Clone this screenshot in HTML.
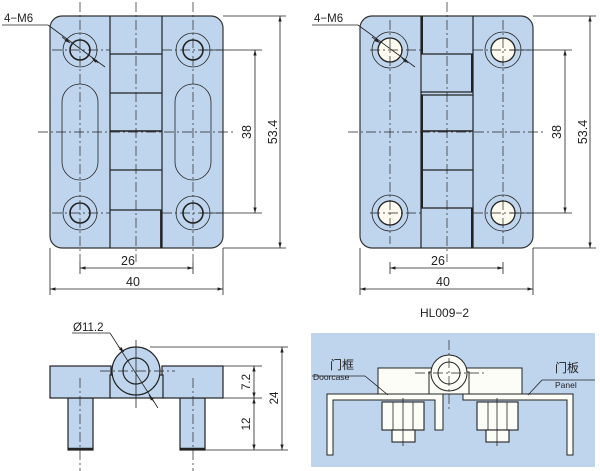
<!DOCTYPE html>
<html><head><meta charset="utf-8"><style>
html,body{margin:0;padding:0;background:#fff;}
svg{display:block;}
text{font-family:"Liberation Sans","Noto Sans CJK SC",sans-serif;fill:#222;}
</style></head><body>
<svg width="600" height="471" viewBox="0 0 600 471" xmlns="http://www.w3.org/2000/svg">
<defs>
<marker id="a" viewBox="0 0 10 10" refX="10" refY="5" markerWidth="7" markerHeight="7" orient="auto-start-reverse"><path d="M0,2 L10,5 L0,8 z" fill="#222"/></marker>
</defs>
<g stroke="#222" stroke-width="0.8" fill="none">
<!-- LEFT HINGE -->
<rect x="50" y="16" width="173" height="232" rx="12" fill="#bfd5ee" stroke="#333" stroke-width="1.2"/>
<line x1="110" y1="16" x2="110" y2="248" stroke-width="1.2"/>
<line x1="162" y1="16" x2="162" y2="248" stroke-width="1.2"/>
<line x1="110" y1="54" x2="162" y2="54" stroke-width="1.2"/>
<line x1="110" y1="93" x2="162" y2="93" stroke-width="1.2"/>
<line x1="110" y1="131" x2="162" y2="131" stroke-width="1.4"/>
<line x1="110" y1="170" x2="162" y2="170" stroke-width="1.2"/>
<line x1="110" y1="210" x2="162" y2="210" stroke-width="1.2"/>
<line x1="161" y1="210" x2="161" y2="248" stroke-width="1.8"/>
<rect x="62" y="84" width="36" height="96" rx="18"/>
<rect x="175" y="84" width="36" height="96" rx="18"/>
<g>
<circle cx="80" cy="50" r="17"/><circle cx="80" cy="50" r="10" stroke-width="1.6"/>
<circle cx="193" cy="50" r="17"/><circle cx="193" cy="50" r="10" stroke-width="1.6"/>
<circle cx="80" cy="213" r="17"/><circle cx="80" cy="213" r="10" stroke-width="1.6"/>
<circle cx="193" cy="213" r="17"/><circle cx="193" cy="213" r="10" stroke-width="1.6"/>
</g>
<g stroke-dasharray="10,3,2,3" stroke-width="0.7">
<line x1="80" y1="2" x2="80" y2="262"/><line x1="193" y1="2" x2="193" y2="262"/>
<line x1="136" y1="2" x2="136" y2="262"/>
<line x1="38" y1="132" x2="236" y2="132"/>
<line x1="52" y1="50" x2="110" y2="50"/><line x1="162" y1="50" x2="222" y2="50"/>
<line x1="52" y1="213" x2="110" y2="213"/><line x1="162" y1="213" x2="222" y2="213"/>
</g>
<line x1="2" y1="25" x2="48" y2="25"/><line x1="48" y1="25" x2="105" y2="67"/>
<line x1="62" y1="37" x2="70" y2="43" marker-end="url(#a)"/>
<line x1="98" y1="63" x2="92" y2="58" marker-end="url(#a)"/>
<line x1="200" y1="50" x2="262" y2="50"/><line x1="200" y1="213" x2="262" y2="213"/>
<line x1="255" y1="50" x2="255" y2="213" marker-start="url(#a)" marker-end="url(#a)"/>
<line x1="223" y1="16" x2="286" y2="16"/><line x1="223" y1="248" x2="286" y2="248"/>
<line x1="280" y1="16" x2="280" y2="248" marker-start="url(#a)" marker-end="url(#a)"/>
<line x1="50" y1="248" x2="50" y2="295"/><line x1="223" y1="248" x2="223" y2="295"/>
<line x1="80" y1="262" x2="80" y2="274"/><line x1="193" y1="262" x2="193" y2="274"/>
<line x1="80" y1="268" x2="193" y2="268" marker-start="url(#a)" marker-end="url(#a)"/>
<line x1="50" y1="289" x2="223" y2="289" marker-start="url(#a)" marker-end="url(#a)"/>

<!-- RIGHT HINGE -->
<rect x="360" y="16" width="173" height="232" rx="12" fill="#bfd5ee" stroke="#333" stroke-width="1.2"/>
<line x1="421" y1="16" x2="421" y2="248" stroke-width="1.2"/>
<line x1="473" y1="16" x2="473" y2="248" stroke-width="1.2"/>
<line x1="422" y1="16" x2="422" y2="54" stroke-width="2"/>
<line x1="421" y1="54" x2="473" y2="54" stroke-width="1.2"/>
<line x1="472" y1="54" x2="472" y2="92" stroke-width="2"/>
<line x1="421" y1="92" x2="473" y2="92" stroke-width="1.2"/>
<line x1="421" y1="95" x2="473" y2="95" stroke-width="1.2"/>
<line x1="421" y1="131" x2="473" y2="131" stroke-width="1.6"/>
<line x1="421" y1="170" x2="473" y2="170" stroke-width="1.2"/>
<line x1="422" y1="95" x2="422" y2="208" stroke-width="2"/>
<line x1="421" y1="208" x2="473" y2="208" stroke-width="1.2"/>
<line x1="472" y1="208" x2="472" y2="248" stroke-width="2"/>
<g>
<circle cx="390" cy="50" r="18"/><circle cx="390" cy="50" r="12" fill="#fdfbf0" stroke-width="1.3"/>
<circle cx="503" cy="50" r="18"/><circle cx="503" cy="50" r="12" fill="#fdfbf0" stroke-width="1.3"/>
<circle cx="390" cy="213" r="18"/><circle cx="390" cy="213" r="12" fill="#fdfbf0" stroke-width="1.3"/>
<circle cx="503" cy="213" r="18"/><circle cx="503" cy="213" r="12" fill="#fdfbf0" stroke-width="1.3"/>
</g>
<g stroke-dasharray="10,3,2,3" stroke-width="0.7">
<line x1="390" y1="20" x2="390" y2="244"/><line x1="503" y1="20" x2="503" y2="244"/>
<line x1="447" y1="2" x2="447" y2="262"/>
<line x1="348" y1="132" x2="546" y2="132"/>
<line x1="370" y1="50" x2="421" y2="50"/><line x1="473" y1="50" x2="530" y2="50"/>
<line x1="370" y1="213" x2="421" y2="213"/><line x1="473" y1="213" x2="530" y2="213"/>
</g>
<line x1="312" y1="25" x2="358" y2="25"/><line x1="358" y1="25" x2="415" y2="67"/>
<line x1="372" y1="37" x2="380" y2="43" marker-end="url(#a)"/>
<line x1="408" y1="63" x2="402" y2="58" marker-end="url(#a)"/>
<line x1="510" y1="50" x2="572" y2="50"/><line x1="510" y1="213" x2="572" y2="213"/>
<line x1="565" y1="50" x2="565" y2="213" marker-start="url(#a)" marker-end="url(#a)"/>
<line x1="533" y1="16" x2="596" y2="16"/><line x1="533" y1="248" x2="596" y2="248"/>
<line x1="590" y1="16" x2="590" y2="248" marker-start="url(#a)" marker-end="url(#a)"/>
<line x1="360" y1="248" x2="360" y2="295"/><line x1="533" y1="248" x2="533" y2="295"/>
<line x1="390" y1="262" x2="390" y2="274"/><line x1="503" y1="262" x2="503" y2="274"/>
<line x1="390" y1="268" x2="503" y2="268" marker-start="url(#a)" marker-end="url(#a)"/>
<line x1="360" y1="289" x2="533" y2="289" marker-start="url(#a)" marker-end="url(#a)"/>

<!-- SIDE VIEW -->
<rect x="68" y="398" width="25" height="52" fill="#bfd5ee" stroke-width="1.2"/>
<rect x="180" y="398" width="25" height="52" fill="#bfd5ee" stroke-width="1.2"/>
<line x1="68" y1="449" x2="93" y2="449" stroke-width="2.5"/>
<line x1="180" y1="449" x2="205" y2="449" stroke-width="2.5"/>
<rect x="50" y="366" width="61" height="32" fill="#bfd5ee" stroke-width="1.2"/>
<rect x="162" y="366" width="61" height="32" fill="#bfd5ee" stroke-width="1.2"/>
<rect x="110" y="375" width="53" height="23" fill="#bfd5ee" stroke-width="1.2"/>
<circle cx="136" cy="371" r="24" fill="#bfd5ee" stroke-width="1.2"/>
<circle cx="136" cy="371" r="13" stroke-width="1.2"/>
<g stroke-dasharray="10,3,2,3" stroke-width="0.7">
<line x1="80" y1="378" x2="80" y2="471"/><line x1="193" y1="378" x2="193" y2="471"/>
<line x1="100" y1="371" x2="175" y2="371"/>
</g>
<line x1="136" y1="340" x2="136" y2="408"/>
<line x1="72" y1="333" x2="110" y2="333"/><line x1="110" y1="333" x2="158" y2="408"/>
<line x1="118" y1="346" x2="124" y2="352" marker-end="url(#a)"/>
<line x1="154" y1="402" x2="149" y2="395" marker-end="url(#a)"/>
<line x1="150" y1="347" x2="288" y2="347"/>
<line x1="223" y1="366" x2="262" y2="366"/><line x1="205" y1="398" x2="262" y2="398"/>
<line x1="205" y1="450" x2="288" y2="450"/>
<line x1="254" y1="366" x2="254" y2="398" marker-start="url(#a)" marker-end="url(#a)"/>
<line x1="254" y1="398" x2="254" y2="450" marker-start="url(#a)" marker-end="url(#a)"/>
<line x1="282" y1="347" x2="282" y2="450" marker-start="url(#a)" marker-end="url(#a)"/>

<!-- INSTALL VIEW -->
<rect x="311" y="333" width="284" height="134" fill="#bfd5ee" stroke="none"/>
<rect x="378" y="368" width="144" height="26" fill="#fdfdf8" stroke-width="1"/>
<rect x="429" y="372" width="40" height="22" fill="#fdfdf8" stroke-width="1"/>
<circle cx="449" cy="373" r="18" fill="#fdfdf8" stroke-width="1"/>
<circle cx="449" cy="373" r="11" stroke-width="1"/>
<path d="M327,455 L327,394 L443,394 L443,430 L435,430 L435,400 L333,400 L333,455 Z" fill="#fdfdf8" stroke-width="1"/>
<path d="M573,455 L573,394 L463,394 L463,400 L567,400 L567,455 Z" fill="#fdfdf8" stroke-width="1"/>
<rect x="382" y="402" width="42" height="28" fill="#fdfdf8" stroke-width="1.1"/>
<line x1="393" y1="402" x2="393" y2="430"/><line x1="413" y1="402" x2="413" y2="430"/>
<rect x="392" y="430" width="23" height="12" fill="#fdfdf8" stroke-width="1.1"/>
<rect x="477" y="402" width="41" height="28" fill="#fdfdf8" stroke-width="1.1"/>
<line x1="488" y1="402" x2="488" y2="430"/><line x1="507" y1="402" x2="507" y2="430"/>
<rect x="486" y="430" width="23" height="12" fill="#fdfdf8" stroke-width="1.1"/>
<line x1="403" y1="398" x2="403" y2="446"/><line x1="497" y1="398" x2="497" y2="446"/>
<g stroke-dasharray="10,3,2,3" stroke-width="0.7">
<line x1="449" y1="340" x2="449" y2="410"/>
<line x1="415" y1="373" x2="485" y2="373"/>
</g>
<line x1="312" y1="376" x2="365" y2="376"/><line x1="365" y1="376" x2="388" y2="395"/>
<line x1="542" y1="380" x2="595" y2="380"/><line x1="542" y1="380" x2="528" y2="395"/>
</g>
<g font-size="11.5">
<text x="4" y="22">4−M6</text>
<text x="314" y="22">4−M6</text>
<text x="121" y="265" font-size="12.5">26</text>
<text x="126" y="286" font-size="12.5">40</text>
<text x="431" y="265" font-size="12.5">26</text>
<text x="436" y="286" font-size="12.5">40</text>
<text transform="translate(251,132) rotate(-90)" text-anchor="middle" font-size="12.5">38</text>
<text transform="translate(277,132) rotate(-90)" text-anchor="middle" font-size="12.5">53.4</text>
<text transform="translate(561,132) rotate(-90)" text-anchor="middle" font-size="12.5">38</text>
<text transform="translate(587,132) rotate(-90)" text-anchor="middle" font-size="12.5">53.4</text>
<text x="73" y="331">Ø11.2</text>
<text transform="translate(250,382) rotate(-90)" text-anchor="middle">7.2</text>
<text transform="translate(250,424) rotate(-90)" text-anchor="middle">12</text>
<text transform="translate(278,398) rotate(-90)" text-anchor="middle">24</text>
<text x="420" y="317" font-size="12">HL009−2</text>
<text x="330" y="369" font-size="12">门框</text>
<text x="313" y="380" font-size="8.5">Doorcase</text>
<text x="555" y="372" font-size="12">门板</text>
<text x="555" y="388" font-size="8.5">Panel</text>
</g>
</svg>
</body></html>
